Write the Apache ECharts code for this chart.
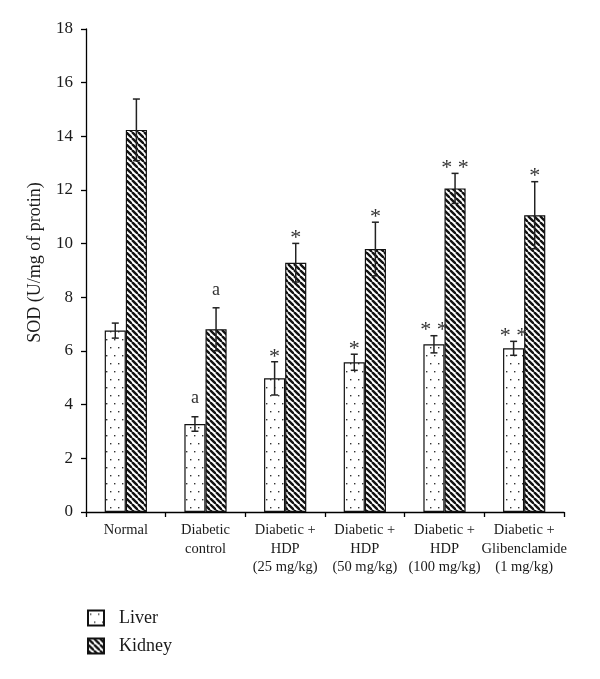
<!DOCTYPE html>
<html>
<head>
<meta charset="utf-8">
<script src="https://cdn.jsdelivr.net/npm/echarts@6/dist/echarts.min.js"></script>
<style>html,body{margin:0;padding:0;background:#fff;}#c{width:600px;height:679px;}</style>
</head>
<body>
<div id="c"></div>
<script>
var categories = ['Normal', 'Diabetic\ncontrol', 'Diabetic +\nHDP\n(25 mg/kg)', 'Diabetic +\nHDP\n(50 mg/kg)', 'Diabetic +\nHDP\n(100 mg/kg)', 'Diabetic +\nGlibenclamide\n(1 mg/kg)'];
var liverValues = [6.76, 3.28, 4.98, 5.58, 6.25, 6.10];
var liverErrors = [0.28, 0.27, 0.62, 0.30, 0.32, 0.26];
var liverMarks = ['', 'a', '*', '*', '* *', '* *'];
var kidneyValues = [14.24, 6.81, 9.29, 9.80, 12.06, 11.06];
var kidneyErrors = [1.15, 0.80, 0.72, 1.00, 0.56, 1.25];
var kidneyMarks = ['', 'a', '*', '*', '* *', '*'];
var yTicks = [0, 2, 4, 6, 8, 10, 12, 14, 16, 18];

var FONT = '"Liberation Serif", "DejaVu Serif", serif';
var TXT = '#1a1a1a';

function dotPattern() {
  var c = document.createElement('canvas');
  c.width = 8; c.height = 16;
  var g = c.getContext('2d');
  g.fillStyle = '#fff'; g.fillRect(0, 0, 8, 16);
  g.fillStyle = '#333';
  g.fillRect(2, 3, 1.4, 1.4);
  g.fillRect(6, 11, 1.4, 1.4);
  return c;
}
function stripePattern() {
  var s = 6;
  var c = document.createElement('canvas');
  c.width = s; c.height = s;
  var g = c.getContext('2d');
  g.fillStyle = '#fff'; g.fillRect(0, 0, s, s);
  g.strokeStyle = '#111'; g.lineWidth = 2.4;
  for (var k = -1; k <= 1; k++) {
    g.beginPath(); g.moveTo(k * s, 0); g.lineTo(k * s + s, s); g.stroke();
  }
  return c;
}

var BW = 0.265;
function errSeries(name, values, errors, marks, side) {
  var data = values.map(function (v, i) { return [i, v, errors[i]]; });
  return {
    type: 'custom', name: name + ' err', silent: true, z: 5,
    data: data,
    renderItem: function (params, api) {
      var i = api.value(0), v = api.value(1), e = api.value(2);
      var band = api.size([1, 0])[0];
      var off = side * band * BW / 2;
      var top = api.coord([i, v + e]);
      var bot = api.coord([i, v - e]);
      var x = top[0] + off;
      var cap = 3.5;
      var style = { stroke: '#222', lineWidth: 1.5 };
      var children = [
        { type: 'line', shape: { x1: x, y1: top[1], x2: x, y2: bot[1] }, style: style },
        { type: 'line', shape: { x1: x - cap, y1: top[1], x2: x + cap, y2: top[1] }, style: style },
        { type: 'line', shape: { x1: x - cap, y1: bot[1], x2: x + cap, y2: bot[1] }, style: style }
      ];
      var m = marks[params.dataIndex];
      if (m) {
        var isA = m === 'a';
        children.push({
          type: 'text',
          style: {
            text: m, x: x, y: isA ? top[1] - 9 : top[1] - 5,
            align: 'center', verticalAlign: isA ? 'bottom' : 'middle',
            font: (isA ? '18px ' : '22px ') + FONT, fill: '#333'
          }
        });
      }
      return { type: 'group', children: children };
    }
  };
}

var chart = echarts.init(document.getElementById('c'), null, { renderer: 'canvas' });
chart.setOption({
  animation: false,
  backgroundColor: '#fff',
  grid: { left: 86, right: 36, top: 29, bottom: 167, containLabel: false },
  legend: {
    orient: 'vertical', left: 82, top: 604, icon: 'rect',
    itemWidth: 16, itemHeight: 15, itemGap: 10,
    data: ['Liver', 'Kidney'],
    textStyle: { fontFamily: FONT, fontSize: 18, color: TXT, padding: [0, 0, 0, 10] }
  },
  xAxis: {
    type: 'category', data: categories,
    axisLine: { lineStyle: { color: '#000', width: 1.3 } },
    axisTick: { show: true, length: 5, inside: false, lineStyle: { color: '#000', width: 1.3 } },
    axisLabel: { fontFamily: FONT, fontSize: 14.5, lineHeight: 18.5, color: TXT, margin: 9, interval: 0 }
  },
  yAxis: {
    type: 'value', min: 0, max: 18, interval: 2,
    name: 'SOD (U/mg of protin)', nameLocation: 'middle', nameGap: 42,
    nameTextStyle: { fontFamily: FONT, fontSize: 18, color: TXT, padding: [0, 0, 0, 16] },
    axisLine: { show: true, lineStyle: { color: '#000', width: 1.3 } },
    axisTick: { show: true, length: 5, lineStyle: { color: '#000', width: 1.3 } },
    axisLabel: { fontFamily: FONT, fontSize: 17, color: TXT, margin: 13,
      formatter: function (v) { return yTicks.indexOf(v) >= 0 ? String(v) : ''; } },
    splitLine: { show: false }
  },
  series: [
    { type: 'bar', name: 'Liver', data: liverValues, barWidth: (BW * 100) + '%', barGap: '0%',
      itemStyle: { color: { image: dotPattern(), repeat: 'repeat' }, borderColor: '#111', borderWidth: 1.2 } },
    { type: 'bar', name: 'Kidney', data: kidneyValues, barWidth: (BW * 100) + '%', barGap: '0%',
      itemStyle: { color: { image: stripePattern(), repeat: 'repeat' }, borderColor: '#111', borderWidth: 1.2 } },
    errSeries('Liver', liverValues, liverErrors, liverMarks, -1),
    errSeries('Kidney', kidneyValues, kidneyErrors, kidneyMarks, 1)
  ]
});
</script>
</body>
</html>
